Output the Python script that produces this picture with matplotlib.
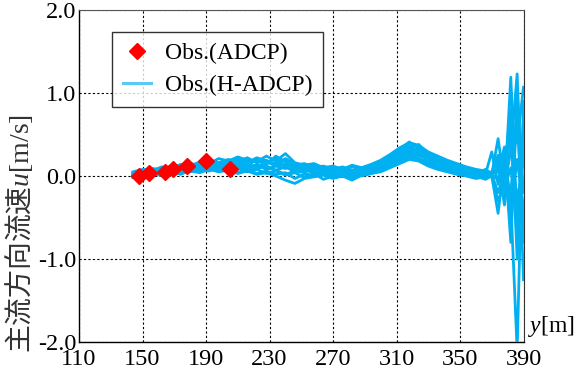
import matplotlib
matplotlib.use("Agg")
import matplotlib.pyplot as plt
from matplotlib.lines import Line2D

plt.rcParams['font.family'] = ['Liberation Serif', 'DejaVu Serif']
plt.rcParams['mathtext.fontset'] = 'custom'
plt.rcParams['mathtext.rm'] = 'Liberation Serif'
plt.rcParams['mathtext.it'] = 'Liberation Serif:italic'

BLUE = '#00B0F0'

# ADCP points
adcp_y = [148, 154, 164, 169, 178, 190, 205]
adcp_u = [0.00, 0.04, 0.05, 0.08, 0.12, 0.18, 0.09]

# H-ADCP profiles (shared positions)
hadcp_y = [144, 150, 156, 162, 168, 174, 180, 186, 192, 198, 204, 210, 216, 222,
           228, 234, 240, 246, 252, 258, 264, 270, 276, 282, 288, 294, 300, 306,
           312, 318, 324, 330, 336, 342, 348, 354, 360, 366, 370, 374, 378, 382,
           386, 390]

s01 = [0.00, 0.03, 0.02, 0.07, 0.04, 0.09, 0.06, 0.12, 0.10, 0.16, 0.13, 0.19, 0.14, 0.10,
       0.16, 0.21, 0.12, 0.08, 0.11, 0.05, 0.08, 0.03, 0.06, 0.01, 0.05, 0.09, 0.06, 0.17,
       0.24, 0.36, 0.29, 0.21, 0.13, 0.16, 0.09, 0.06, 0.02, 0.08, 0.03, 0.10, -0.20, 1.19,
       -0.60, 0.50]
s02 = [0.05, 0.08, 0.06, 0.11, 0.09, 0.14, 0.12, 0.17, 0.15, 0.21, 0.18, 0.23, 0.19, 0.17,
       0.24, 0.18, 0.27, 0.16, 0.13, 0.15, 0.10, 0.12, 0.08, 0.11, 0.09, 0.13, 0.17, 0.24,
       0.32, 0.41, 0.34, 0.27, 0.22, 0.17, 0.13, 0.10, 0.07, 0.04, 0.02, 0.45, -0.10, 0.30,
       1.23, -0.80]
s03 = [-0.02, 0.00, 0.02, 0.01, 0.04, 0.03, 0.06, 0.04, 0.08, 0.05, 0.07, 0.03, 0.06, 0.02,
       0.04, 0.00, -0.05, -0.09, -0.03, -0.01, 0.01, -0.03, 0.00, -0.05, 0.01, 0.03, 0.05, 0.10,
       0.15, 0.20, 0.18, 0.12, 0.08, 0.05, 0.02, 0.00, -0.03, -0.01, 0.00, -0.45, 0.20, -0.30,
       -2.10, 0.90]
s04 = [0.03, 0.02, 0.07, 0.05, 0.10, 0.08, 0.13, 0.11, 0.15, 0.12, 0.18, 0.15, 0.12, 0.20,
       0.14, 0.24, 0.17, 0.11, 0.14, 0.08, 0.10, 0.06, 0.09, 0.05, 0.08, 0.11, 0.15, 0.20,
       0.28, 0.33, 0.38, 0.25, 0.18, 0.12, 0.14, 0.07, 0.05, 0.03, 0.05, 0.15, -0.35, 0.60,
       0.40, 1.07]
s05 = [0.01, 0.04, 0.03, 0.06, 0.08, 0.06, 0.10, 0.08, 0.13, 0.10, 0.09, 0.14, 0.11, 0.13,
       0.08, 0.12, 0.09, 0.13, 0.06, 0.08, 0.04, 0.07, 0.02, 0.06, 0.04, 0.06, 0.11, 0.14,
       0.20, 0.27, 0.32, 0.20, 0.16, 0.10, 0.11, 0.05, 0.07, 0.02, 0.29, -0.10, 0.30, -0.80,
       0.90, -1.25]
s06 = [0.00, -0.02, 0.03, 0.01, 0.05, 0.02, 0.07, 0.05, 0.09, 0.06, 0.11, 0.04, 0.08, 0.03,
       0.06, 0.02, 0.04, -0.03, 0.02, 0.00, 0.03, -0.02, 0.01, 0.04, 0.00, 0.03, 0.08, 0.12,
       0.18, 0.23, 0.19, 0.15, 0.09, 0.06, 0.04, 0.01, -0.02, 0.03, 0.04, 0.25, -0.15, 0.10,
       -0.50, 0.30]
s07 = [0.04, 0.07, 0.09, 0.08, 0.12, 0.10, 0.15, 0.13, 0.18, 0.16, 0.20, 0.17, 0.22, 0.16,
       0.19, 0.13, 0.21, 0.15, 0.10, 0.12, 0.07, 0.11, 0.08, 0.13, 0.10, 0.14, 0.19, 0.26,
       0.34, 0.40, 0.37, 0.29, 0.24, 0.19, 0.15, 0.11, 0.08, 0.06, 0.02, -0.20, 0.05, 0.80,
       -1.00, 0.70]
s08 = [0.02, 0.01, 0.05, 0.04, 0.07, 0.09, 0.08, 0.11, 0.09, 0.13, 0.10, 0.12, 0.09, 0.14,
       0.10, 0.07, 0.11, 0.05, 0.08, 0.03, 0.06, 0.02, 0.07, 0.03, 0.06, 0.08, 0.12, 0.16,
       0.21, 0.28, 0.24, 0.22, 0.14, 0.10, 0.06, 0.08, 0.03, 0.05, 0.03, 0.05, 0.35, -0.40,
       0.20, -0.40]
s09 = [0.01, 0.03, 0.01, 0.05, 0.03, 0.07, 0.05, 0.08, 0.06, 0.10, 0.08, 0.09, 0.05, 0.08,
       0.03, 0.06, 0.01, 0.04, -0.02, 0.03, -0.04, 0.00, -0.01, 0.02, 0.01, 0.04, 0.07, 0.13,
       0.17, 0.25, 0.21, 0.17, 0.10, 0.07, 0.05, 0.02, 0.00, -0.04, 0.00, -0.30, -0.10, 0.40,
       -0.30, 0.20]
s10 = [0.03, 0.05, 0.04, 0.08, 0.06, 0.11, 0.09, 0.14, 0.11, 0.15, 0.13, 0.16, 0.13, 0.11,
       0.17, 0.12, 0.14, 0.09, 0.12, 0.07, 0.09, 0.05, 0.10, 0.06, 0.07, 0.10, 0.13, 0.19,
       0.26, 0.30, 0.33, 0.23, 0.19, 0.13, 0.10, 0.07, 0.05, 0.00, 0.04, 0.12, 0.00, -0.20,
       0.70, -0.60]
s11 = [-0.01, 0.02, 0.04, 0.03, 0.06, 0.05, 0.08, 0.07, 0.11, 0.09, 0.12, 0.10, 0.07, 0.09,
       0.12, 0.07, 0.02, 0.06, 0.04, -0.01, 0.05, 0.01, 0.03, -0.02, 0.03, 0.05, 0.09, 0.15,
       0.22, 0.31, 0.27, 0.18, 0.12, 0.08, 0.07, 0.03, 0.01, 0.02, 0.01, 0.20, -0.25, 0.50,
       -0.80, 0.40]
s12 = [0.02, 0.06, 0.05, 0.09, 0.07, 0.12, 0.10, 0.13, 0.16, 0.13, 0.17, 0.20, 0.16, 0.22,
       0.18, 0.15, 0.19, 0.13, 0.15, 0.10, 0.12, 0.08, 0.11, 0.07, 0.10, 0.12, 0.16, 0.22,
       0.30, 0.38, 0.35, 0.26, 0.20, 0.15, 0.12, 0.09, 0.06, 0.04, 0.03, -0.05, 0.15, -0.60,
       1.00, -0.20]
hadcp_u = [s01, s02, s03, s04, s05, s06, s07, s08, s09, s10, s11, s12]

x_ticks = [110, 150, 190, 230, 270, 310, 350, 390]
y_ticks = [-2.0, -1.0, 0.0, 1.0, 2.0]

fig = plt.figure(figsize=(5.79, 3.73), dpi=100)
ax = fig.add_axes([79 / 579, 1 - 342 / 373, (523.5 - 79) / 579, (342 - 10) / 373])

for s in hadcp_u:
    ax.plot(hadcp_y, s, color=BLUE, lw=2.0, zorder=3)
ax.plot(adcp_y, adcp_u, 'D', color='#FF0000', ms=8, mec='#FF0000', ls='none', zorder=4)

ax.set_xlim(110, 390)
ax.set_ylim(-2.0, 2.0)
ax.set_xticks(x_ticks)
ax.set_yticks(y_ticks)
ax.set_yticklabels(['%.1f' % v for v in y_ticks])
ax.tick_params(length=0, labelsize=17.5, pad=2)
ax.tick_params(axis='x', pad=5)
ax.grid(True, color='black', ls=(0, (2, 2)), lw=0.8, zorder=1)

ax.spines['top'].set_linestyle((0, (2, 1)))
ax.spines['top'].set_color('#555555')
ax.spines['right'].set_color('#333333')
for side in ['left', 'bottom']:
    ax.spines[side].set_color('black')
    ax.spines[side].set_linewidth(1.0)

handles = [Line2D([], [], marker='D', color='#FF0000', ls='none', ms=8),
           Line2D([], [], color='#5BC8F5', lw=2.2)]
leg = ax.legend(handles, ['Obs.(ADCP)', 'Obs.(H-ADCP)'], loc='upper left',
                bbox_to_anchor=((112 - 79) / 444.5, 1 - (32 - 10) / 332),
                fontsize=17, frameon=True, fancybox=False, borderpad=0.45,
                handlelength=1.2, handletextpad=0.6, labelspacing=0.45,
                borderaxespad=0)
leg.get_frame().set_edgecolor('black')
leg.get_frame().set_linewidth(1.0)

fig.text(0.035, 1 - 353 / 373, '主流方向流速$\\mathit{u}$$\\mathrm{[m/s]}$', rotation=90,
         ha='center', va='bottom', fontsize=20, family='Noto Sans CJK JP', color='#333333')
ax.text(1.01, 0.01, '$\\mathit{y}$[m]', transform=ax.transAxes, ha='left', va='bottom',
        fontsize=17)

fig.savefig('out.png', dpi=100)
